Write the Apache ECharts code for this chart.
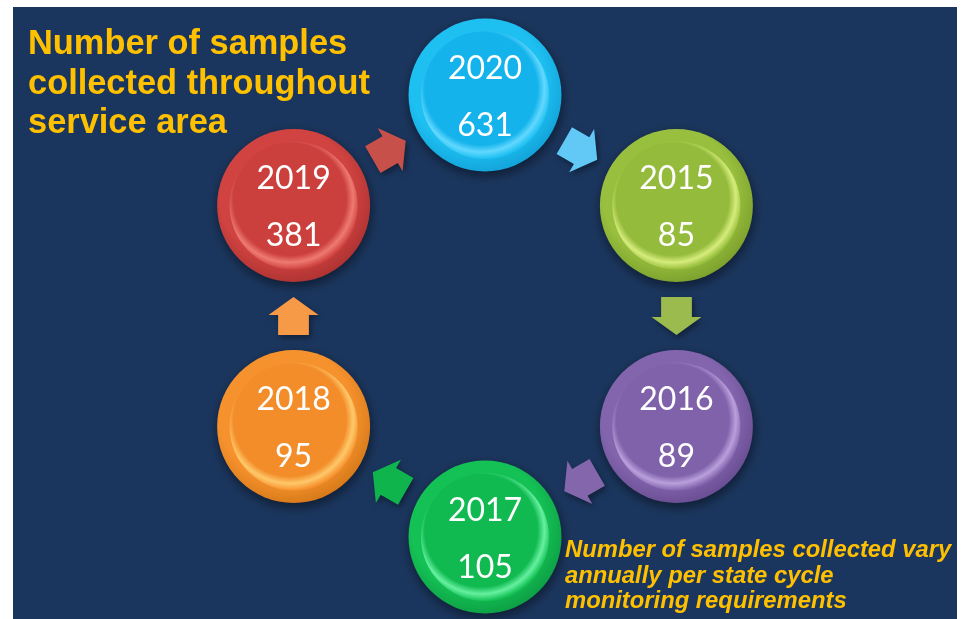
<!DOCTYPE html>
<html>
<head>
<meta charset="utf-8">
<script src="https://cdn.jsdelivr.net/npm/echarts@6/dist/echarts.min.js"></script>
<style>
html,body{margin:0;padding:0;background:#ffffff;}
#c{width:965px;height:619px;}
</style>
</head>
<body>
<div id="c"></div>
<script>
// ---- data ----
const years = ['2020', '2015', '2016', '2017', '2018', '2019'];
const samples = [631, 85, 89, 105, 95, 381];
const transitions = ['2020→2015', '2015→2016', '2016→2017', '2017→2018', '2018→2019', '2019→2020'];
const titleText = 'Number of samples\ncollected throughout\nservice area';
const noteText = 'Number of samples collected vary\nannually per state cycle\nmonitoring requirements';

// ---- styles ----
const ringColors = [
  {base: '#1ec0f2', light: '#62d8ff', dark: '#109fd6', inner: '#15b3eb'},
  {base: '#98bf3e', light: '#d6ec7c', dark: '#799c2a', inner: '#94bb3b'},
  {base: '#8365ae', light: '#b9a0dc', dark: '#664a8e', inner: '#8062ab'},
  {base: '#14c155', light: '#66f0a0', dark: '#0c9a42', inner: '#10ba50'},
  {base: '#f6922e', light: '#ffc86a', dark: '#d27616', inner: '#f38d2a'},
  {base: '#d04340', light: '#ee7a72', dark: '#a83030', inner: '#cb3f3d'}
];
const arrowColors = ['#62c9f7', '#9bbb4f', '#8466ac', '#10b44c', '#f79a48', '#c8504b'];
const arrowPath = 'path://M26,0 L52,18 L42,18 L42,38 L10,38 L10,18 L0,18 Z';

function outerGrad(c) {
  return new echarts.graphic.RadialGradient(0.45, 0.42, 0.62, [
    {offset: 0, color: c.base},
    {offset: 0.7, color: c.base},
    {offset: 1, color: c.dark}
  ]);
}
function innerGrad(c) {
  return new echarts.graphic.RadialGradient(0.47, 0.45, 0.55, [
    {offset: 0, color: c.inner},
    {offset: 0.8, color: c.inner},
    {offset: 0.9, color: c.light},
    {offset: 1, color: c.base}
  ]);
}

const chart = echarts.init(document.getElementById('c'), null, {renderer: 'canvas'});

const option = {
  backgroundColor: '#ffffff',
  animation: false,
  graphic: [{
    type: 'rect', z: -10, silent: true,
    shape: {x: 13, y: 7, width: 944, height: 612},
    style: {fill: '#1b365e'}
  }],
  title: [{
    text: titleText, left: 28, top: 25, padding: 0,
    textStyle: {color: '#ffc000', fontFamily: 'Liberation Sans', fontWeight: 'bold', fontSize: 34.4, lineHeight: 39.5}
  }, {
    text: noteText, left: 565, top: 538, padding: 0,
    textStyle: {color: '#ffc000', fontFamily: 'Liberation Sans', fontWeight: 'bold', fontStyle: 'italic', fontSize: 23.8, lineHeight: 25.5}
  }],
  polar: [
    {center: [485, 316], radius: 442},
    {center: [485, 316], radius: 383}
  ],
  angleAxis: [
    {polarIndex: 0, type: 'category', data: years, startAngle: 120, clockwise: true, show: false},
    {polarIndex: 1, type: 'category', data: transitions, startAngle: 90, clockwise: true, show: false}
  ],
  radiusAxis: [
    {polarIndex: 0, type: 'category', data: ['cycle'], show: false},
    {polarIndex: 1, type: 'category', data: ['cycle'], show: false}
  ],
  series: [
    {
      type: 'scatter', coordinateSystem: 'polar', polarIndex: 0, z: 2,
      symbol: 'circle', symbolSize: 153, silent: true,
      data: years.map((y, i) => ({
        value: ['cycle', y],
        itemStyle: {
          opacity: 1,
          color: outerGrad(ringColors[i]),
          shadowBlur: 12, shadowColor: 'rgba(0,0,0,0.5)', shadowOffsetX: 1, shadowOffsetY: 4
        }
      }))
    },
    {
      type: 'scatter', coordinateSystem: 'polar', polarIndex: 0, z: 3,
      symbol: 'circle', symbolSize: 128, silent: true,
      data: years.map((y, i) => ({
        value: ['cycle', y],
        itemStyle: {opacity: 1, color: innerGrad(ringColors[i])}
      })),
      label: {
        show: true, position: 'inside', offset: [0, 2],
        formatter: p => '{a|' + years[p.dataIndex] + '}\n{b|' + samples[p.dataIndex] + '}',
        rich: {
          a: {color: '#ffffff', fontFamily: 'Lato', fontSize: 32, lineHeight: 57},
          b: {color: '#ffffff', fontFamily: 'Lato', fontSize: 32, lineHeight: 57}
        }
      }
    },
    {
      type: 'scatter', coordinateSystem: 'polar', polarIndex: 1, z: 1,
      symbol: arrowPath, symbolSize: [50, 38], silent: true,
      symbolRotate: (v, p) => -120 - 60 * p.dataIndex,
      data: transitions.map((t, i) => ({
        value: ['cycle', t],
        itemStyle: {
          opacity: 1,
          color: arrowColors[i],
          shadowBlur: 6, shadowColor: 'rgba(0,0,0,0.4)', shadowOffsetX: 2, shadowOffsetY: 3
        }
      }))
    }
  ]
};
chart.setOption(option);
</script>
</body>
</html>
